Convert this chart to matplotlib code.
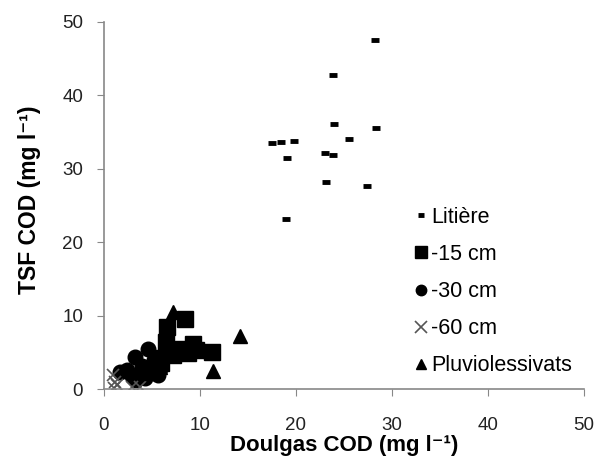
import numpy as np
import matplotlib
matplotlib.use("Agg")
import matplotlib.pyplot as plt

plt.rcParams['font.family'] = ['Liberation Sans', 'DejaVu Sans']

# Litiere
lit_x = [28.2, 23.85, 24.0, 28.3, 25.5, 17.5, 18.5, 19.8, 19.1, 23.0, 23.9, 23.1, 27.4, 19.0]
lit_y = [47.5, 42.8, 36.1, 35.6, 34.1, 33.5, 33.7, 33.8, 31.5, 32.1, 31.9, 28.2, 27.6, 23.2]

# -15 cm
s15_x = [8.5, 6.6, 6.5, 9.3, 11.3, 7.7, 8.8, 6.7, 5.5, 9.6, 7.2, 6.0]
s15_y = [9.5, 8.4, 6.4, 6.2, 5.1, 5.5, 4.9, 4.9, 4.2, 5.3, 4.6, 3.6]

# -30 cm
s30_x = [4.6, 3.2, 2.4, 1.7, 4.0, 5.2, 3.6, 2.9, 4.8, 6.0, 5.6, 3.3, 4.3]
s30_y = [5.5, 4.4, 2.6, 2.4, 3.2, 4.0, 2.0, 1.8, 2.4, 3.0, 2.0, 1.2, 1.5]

# -60 cm
s60_x = [1.15, 1.0, 1.1, 2.9, 3.75, 1.4]
s60_y = [1.0, 1.9, 0.1, 0.3, 0.3, 0.6]

# Pluviolessivats
pl_x = [7.2, 14.2, 11.4, 5.8, 4.9]
pl_y = [10.5, 7.2, 2.5, 3.0, 2.2]

fig = plt.figure(figsize=(5.97, 4.65), dpi=100)
ax = fig.add_axes([0.174, 0.163, 0.804, 0.79])

ax.plot(lit_x, lit_y, ls='none', marker='_', ms=6, mew=3.5, color='black', label='Litière')
ax.plot(s15_x, s15_y, ls='none', marker='s', ms=12, color='black', label='-15 cm')
ax.plot(s30_x, s30_y, ls='none', marker='o', ms=10.5, color='black', label='-30 cm')
ax.plot(s60_x, s60_y, ls='none', marker='x', ms=9, mew=1.2, color='#555555', label='-60 cm')
ax.plot(pl_x, pl_y, ls='none', marker='^', ms=10, color='black', label='Pluviolessivats')

ax.set_xlim(0, 50)
ax.set_ylim(0, 50)
ax.set_xticks(np.arange(0, 51, 10))
ax.set_yticks(np.arange(0, 51, 10))
for s in ['top', 'right']:
    ax.spines[s].set_visible(False)
for s in ['left', 'bottom']:
    ax.spines[s].set_color('#888888')
    ax.spines[s].set_linewidth(1.2)
ax.tick_params(direction='out', length=5, color='#888888', labelsize=13.5,
               labelcolor='#222222', pad=10)
ax.tick_params(axis='x', pad=15)

ax.set_xlabel('Doulgas COD (mg l⁻¹)', fontsize=16, fontweight='bold')
ax.set_ylabel('TSF COD (mg l⁻¹)', fontsize=16.5, fontweight='bold')
ax.xaxis.set_label_coords(0.5, -0.125)
ax.yaxis.set_label_coords(-0.13, 0.515)

leg = ax.legend(loc='upper left', bbox_to_anchor=(0.63, 0.52), frameon=False,
                fontsize=15.5, handlelength=0.6, handletextpad=0.15, labelspacing=0.75,
                borderaxespad=0)
leg.legend_handles[0].set_markersize(5)
leg.legend_handles[1].set_markersize(8)
leg.legend_handles[2].set_markersize(7.5)
leg.legend_handles[3].set_markersize(8)
leg.legend_handles[4].set_markersize(7.5)

fig.savefig('out.png', dpi=100)
